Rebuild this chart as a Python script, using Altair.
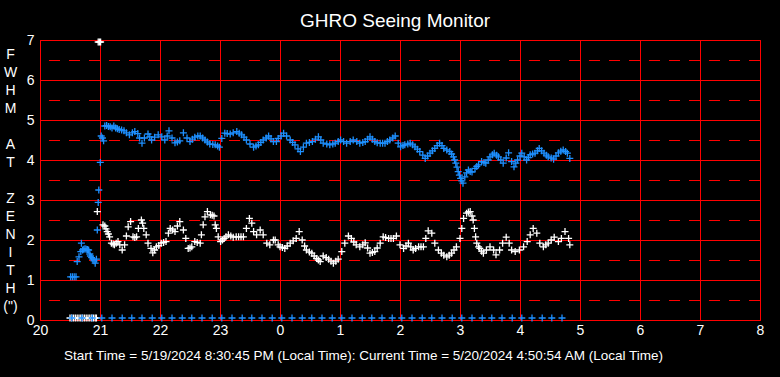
import altair as alt
import pandas as pd

# ---------------- data ----------------
x_ticks = [20, 21, 22, 23, 24, 25, 26, 27, 28, 29, 30, 31, 32]
y_ticks = [0, 1, 2, 3, 4, 5, 6, 7]
half_grid = [0.5, 1.5, 2.5, 3.5, 4.5, 5.5, 6.5]

# blue series (hour since midnight of 5/19, FWHM")
blue_points = [
    (20.51, 1.08), (20.54, 1.08), (20.57, 1.08), (20.60, 1.08),
    (20.62, 1.46), (20.65, 1.58), (20.68, 1.71), (20.69, 1.92), (20.71, 1.75),
    (20.73, 1.77), (20.75, 1.78), (20.77, 1.77), (20.79, 1.76), (20.81, 1.75),
    (20.83, 1.65), (20.84, 1.60), (20.86, 1.56), (20.88, 1.52), (20.90, 1.48),
    (20.92, 1.42), (20.94, 1.52), (20.955, 2.25), (20.97, 2.94), (20.98, 3.25),
    (21.005, 3.94), (21.02, 4.60), (21.04, 4.55), (21.06, 4.48), (21.08, 4.85),
    (21.11, 4.86), (21.14, 4.84), (21.17, 4.83), (21.20, 4.80), (21.23, 4.85),
    (21.26, 4.80), (21.29, 4.78), (21.32, 4.76), (21.36, 4.75), (21.40, 4.73),
    (21.44, 4.68), (21.49, 4.63), (21.54, 4.68), (21.58, 4.71), (21.63, 4.66),
    (21.66, 4.55), (21.70, 4.42), (21.74, 4.55), (21.80, 4.65), (21.83, 4.58),
    (21.86, 4.50), (21.91, 4.57), (21.97, 4.63), (22.03, 4.58), (22.08, 4.50),
    (22.12, 4.60), (22.15, 4.73), (22.20, 4.55), (22.25, 4.43), (22.29, 4.45),
    (22.33, 4.48), (22.39, 4.68), (22.45, 4.55), (22.50, 4.46), (22.54, 4.52),
    (22.58, 4.57), (22.63, 4.60), (22.67, 4.60), (22.71, 4.55), (22.75, 4.50),
    (22.79, 4.45), (22.83, 4.40), (22.88, 4.39), (22.92, 4.38), (22.96, 4.35),
    (22.99, 4.32), (23.03, 4.54), (23.08, 4.67), (23.12, 4.66), (23.17, 4.65),
    (23.22, 4.68), (23.28, 4.71), (23.32, 4.67), (23.36, 4.63), (23.40, 4.57),
    (23.44, 4.50), (23.50, 4.40), (23.56, 4.32), (23.60, 4.35), (23.64, 4.38),
    (23.68, 4.44), (23.72, 4.50), (23.77, 4.55), (23.81, 4.60), (23.85, 4.53),
    (23.89, 4.46), (23.94, 4.46), (23.97, 4.54), (24.02, 4.60), (24.06, 4.67),
    (24.11, 4.60), (24.17, 4.50), (24.21, 4.44), (24.25, 4.38), (24.30, 4.28),
    (24.34, 4.21), (24.39, 4.32), (24.44, 4.42), (24.49, 4.44), (24.54, 4.46),
    (24.59, 4.52), (24.64, 4.58), (24.68, 4.50), (24.72, 4.42), (24.78, 4.40),
    (24.83, 4.38), (24.88, 4.40), (24.92, 4.42), (24.97, 4.46), (25.01, 4.50),
    (25.06, 4.46), (25.11, 4.42), (25.17, 4.46), (25.22, 4.50), (25.28, 4.46),
    (25.33, 4.42), (25.38, 4.44), (25.42, 4.46), (25.46, 4.52), (25.50, 4.58),
    (25.54, 4.52), (25.58, 4.46), (25.62, 4.43), (25.67, 4.42), (25.71, 4.42),
    (25.75, 4.42), (25.79, 4.46), (25.83, 4.50), (25.88, 4.55), (25.92, 4.60),
    (25.97, 4.42), (26.01, 4.33), (26.05, 4.36), (26.08, 4.38), (26.13, 4.40),
    (26.17, 4.42), (26.21, 4.38), (26.25, 4.33), (26.29, 4.27), (26.33, 4.21),
    (26.38, 4.12), (26.42, 4.04), (26.46, 4.10), (26.50, 4.17), (26.54, 4.23),
    (26.58, 4.29), (26.62, 4.36), (26.66, 4.42), (26.70, 4.36), (26.73, 4.29),
    (26.78, 4.25), (26.83, 4.21), (26.86, 4.15), (26.89, 4.08), (26.91, 4.00),
    (26.93, 3.92), (26.95, 3.82), (26.97, 3.71), (26.99, 3.62), (27.01, 3.54),
    (27.03, 3.48), (27.05, 3.42), (27.08, 3.58), (27.11, 3.68), (27.14, 3.75),
    (27.17, 3.71), (27.20, 3.70), (27.25, 3.79), (27.28, 3.84), (27.31, 3.88),
    (27.36, 3.96), (27.40, 3.94), (27.43, 3.92), (27.47, 4.00), (27.50, 4.08),
    (27.54, 4.13), (27.57, 4.17), (27.61, 4.12), (27.64, 4.08), (27.68, 4.00),
    (27.72, 3.92), (27.77, 4.05), (27.81, 4.18), (27.86, 3.96), (27.90, 3.83),
    (27.93, 3.92), (27.96, 4.00), (28.00, 4.10), (28.03, 4.17), (28.07, 4.08),
    (28.11, 4.00), (28.14, 4.06), (28.17, 4.13), (28.21, 4.15), (28.25, 4.17),
    (28.29, 4.23), (28.32, 4.29), (28.36, 4.23), (28.40, 4.17), (28.44, 4.12),
    (28.47, 4.08), (28.52, 4.05), (28.56, 4.02), (28.60, 4.10), (28.64, 4.18),
    (28.68, 4.22), (28.72, 4.25), (28.76, 4.21), (28.79, 4.17), (28.83, 4.04),
]

# white series
white_points = [
    (20.97, 6.95), (20.99, 6.95), (21.01, 6.95),
    (20.955, 2.71), (21.05, 2.38), (21.08, 2.35), (21.10, 2.28), (21.12, 2.21),
    (21.14, 2.15), (21.16, 2.08), (21.19, 1.92), (21.22, 1.90), (21.24, 1.88),
    (21.27, 1.92), (21.30, 1.96), (21.33, 1.88), (21.37, 1.75), (21.41, 1.88),
    (21.44, 2.10), (21.47, 2.33), (21.51, 2.46), (21.55, 2.08), (21.58, 2.06),
    (21.61, 2.08), (21.64, 2.29), (21.69, 2.50), (21.71, 2.42), (21.73, 2.29),
    (21.77, 2.13), (21.80, 1.92), (21.85, 1.79), (21.88, 1.68), (21.91, 1.75),
    (21.94, 1.83), (21.98, 1.86), (22.02, 1.92), (22.06, 1.94), (22.10, 1.96),
    (22.14, 2.17), (22.17, 2.29), (22.21, 2.25), (22.25, 2.21), (22.29, 2.35),
    (22.33, 2.46), (22.39, 2.25), (22.43, 2.04), (22.47, 1.79), (22.50, 1.80),
    (22.53, 1.83), (22.58, 1.96), (22.62, 1.94), (22.67, 1.92), (22.69, 2.13),
    (22.72, 2.38), (22.75, 2.58), (22.79, 2.71), (22.84, 2.63), (22.87, 2.62),
    (22.90, 2.60), (22.92, 2.38), (22.94, 2.29), (22.97, 2.08), (23.01, 1.96),
    (23.04, 2.00), (23.07, 2.04), (23.10, 2.08), (23.14, 2.13), (23.18, 2.10),
    (23.22, 2.07), (23.27, 2.08), (23.31, 2.08), (23.35, 2.08), (23.39, 2.08),
    (23.44, 2.29), (23.49, 2.54), (23.53, 2.42), (23.56, 2.21), (23.61, 2.13),
    (23.67, 2.25), (23.72, 2.13), (23.78, 1.92), (23.83, 1.88), (23.89, 2.00),
    (23.92, 2.00), (23.97, 1.88), (24.00, 1.83), (24.04, 1.81), (24.08, 1.79),
    (24.12, 1.85), (24.17, 1.92), (24.22, 1.98), (24.27, 2.04), (24.32, 2.21),
    (24.37, 2.00), (24.41, 1.85), (24.44, 1.75), (24.49, 1.70), (24.53, 1.67),
    (24.57, 1.60), (24.61, 1.54), (24.64, 1.50), (24.67, 1.46), (24.72, 1.60),
    (24.77, 1.56), (24.81, 1.52), (24.85, 1.47), (24.89, 1.42), (24.93, 1.47),
    (24.97, 1.52), (25.03, 1.71), (25.08, 1.92), (25.14, 2.10), (25.19, 2.04),
    (25.23, 1.95), (25.27, 1.88), (25.33, 1.83), (25.38, 1.88), (25.42, 1.93),
    (25.46, 1.80), (25.50, 1.67), (25.54, 1.69), (25.58, 1.71), (25.62, 1.80),
    (25.67, 1.92), (25.72, 2.08), (25.76, 2.06), (25.81, 2.04), (25.85, 2.04),
    (25.89, 2.04), (25.94, 2.10), (26.00, 1.88), (26.06, 1.79), (26.10, 1.85),
    (26.14, 1.92), (26.18, 1.83), (26.22, 1.75), (26.26, 1.79), (26.31, 1.83),
    (26.35, 1.83), (26.39, 1.83), (26.43, 2.04), (26.47, 2.23), (26.53, 2.17),
    (26.58, 1.92), (26.64, 1.75), (26.69, 1.67), (26.73, 1.62), (26.78, 1.58),
    (26.82, 1.62), (26.86, 1.67), (26.90, 1.75), (26.94, 1.83), (27.00, 2.04),
    (27.03, 2.29), (27.06, 2.54), (27.11, 2.67), (27.14, 2.70), (27.17, 2.71),
    (27.20, 2.60), (27.22, 2.50), (27.24, 2.29), (27.26, 2.08), (27.28, 1.92),
    (27.31, 1.83), (27.33, 1.79), (27.36, 1.72), (27.39, 1.67), (27.44, 1.75),
    (27.50, 1.83), (27.56, 1.75), (27.60, 1.63), (27.66, 1.75), (27.71, 1.92),
    (27.77, 2.07), (27.82, 1.92), (27.86, 1.75), (27.92, 1.71), (27.99, 1.75),
    (28.06, 1.83), (28.12, 1.96), (28.17, 2.13), (28.22, 2.29), (28.28, 2.17),
    (28.33, 1.92), (28.39, 1.83), (28.43, 1.88), (28.47, 1.92), (28.52, 2.00),
    (28.57, 2.07), (28.64, 1.96), (28.69, 2.04), (28.75, 2.21), (28.81, 2.04),
    (28.83, 1.88),
]

# markers along the bottom (value ~0.05)
base_value = 0.05
base_blue_hours = [
    20.53, 20.70, 20.87, 21.03, 21.20, 21.37, 21.53, 21.70, 21.87, 22.03,
    22.20, 22.37, 22.53, 22.70, 22.87, 23.03, 23.20, 23.37, 23.53, 23.70,
    23.87, 24.03, 24.20, 24.37, 24.53, 24.70, 24.87, 25.03, 25.20, 25.37,
    25.53, 25.70, 25.87, 26.03, 26.20, 26.37, 26.53, 26.70, 26.87, 27.03,
    27.20, 27.37, 27.53, 27.70, 27.87, 28.03, 28.20, 28.37, 28.53, 28.70,
]
base_white_hours = [
    20.50, 20.53, 20.56, 20.59, 20.62, 20.65, 20.68, 20.71, 20.74, 20.77,
    20.80, 20.83, 20.86, 20.89, 20.92, 20.94,
]

title_text = "GHRO Seeing Monitor"
footer_text = ("Start Time = 5/19/2024 8:30:45 PM (Local Time): "
               "Current Time = 5/20/2024 4:50:54 AM (Local Time)")
BLANK = "\u200b"  # zero-width placeholder keeps the empty line
y_title_lines = ["F", "W", "H", "M", BLANK, "A", "T", BLANK,
                 "Z", "E", "N", "I", "T", "H", "(\")"]

# ---------------- build tables ----------------
blue_df = pd.DataFrame(blue_points, columns=["hour", "fwhm"])
white_df = pd.DataFrame(white_points, columns=["hour", "fwhm"])
base_blue_df = pd.DataFrame({"hour": base_blue_hours, "fwhm": base_value})
base_white_df = pd.DataFrame({"hour": base_white_hours, "fwhm": base_value})
half_df = pd.DataFrame({"fwhm": half_grid})

FONT = "Liberation Sans"
RED = "#ff0000"
BLUE = "#1e90ff"
CROSS = "M-1,0L1,0M0,-1L0,1"

x_enc = alt.X(
    "hour:Q",
    scale=alt.Scale(domain=[20, 32], nice=False, zero=False),
    axis=alt.Axis(
        values=x_ticks,
        labelExpr="'' + (datum.value >= 24 ? datum.value - 24 : datum.value)",
        grid=True, gridColor=RED, gridWidth=1, gridOpacity=1,
        domain=False, ticks=False,
        labelColor="white", labelFont=FONT, labelFontSize=14,
        labelPadding=3, labelFlush=False, labelOverlap=False,
        title=footer_text, titleColor="white", titleFont=FONT,
        titleFontSize=13.5, titleFontWeight="normal",
        titleX=323, titleY=35, titleAlign="center", titleBaseline="middle",
    ),
)
y_enc = alt.Y(
    "fwhm:Q",
    scale=alt.Scale(domain=[0, 7], nice=False, zero=True),
    axis=alt.Axis(
        values=y_ticks,
        grid=True, gridColor=RED, gridWidth=1, gridOpacity=1,
        domain=False, ticks=False,
        labelColor="white", labelFont=FONT, labelFontSize=14,
        labelPadding=6, labelFlush=False, labelOverlap=False,
        title=y_title_lines, titleColor="white", titleFont=FONT,
        titleFontSize=14, titleFontWeight="normal", titleAngle=0,
        titleX=-30, titleY=7, titleAlign="center", titleBaseline="top",
        titleLineHeight=18,
    ),
)

half_rules = alt.Chart(half_df).mark_rule(
    color=RED, strokeWidth=1, strokeDash=[11, 9], yOffset=0.5
).encode(y=y_enc)


def crosses(df, color):
    return alt.Chart(df).mark_point(
        shape=CROSS, filled=False, size=49, strokeWidth=1.3,
        color=color, opacity=1, clip=False,
    ).encode(x=x_enc, y=y_enc)


chart = alt.layer(
    half_rules,
    crosses(base_white_df, "white"),
    crosses(white_df, "white"),
    crosses(base_blue_df, BLUE),
    crosses(blue_df, BLUE),
).properties(
    width=720,
    height=280,
    autosize=alt.AutoSizeParams(type="none"),
    padding={"left": 40, "top": 40, "right": 20, "bottom": 57},
    background="black",
    title=alt.TitleParams(
        title_text, color="white", font=FONT, fontSize=19,
        fontWeight="normal", anchor="middle", baseline="bottom",
        offset=-17, dx=-5,
    ),
).configure_view(
    stroke=RED, strokeWidth=1
)

chart.save("out.html", embed_options={"renderer": "svg", "actions": False})
